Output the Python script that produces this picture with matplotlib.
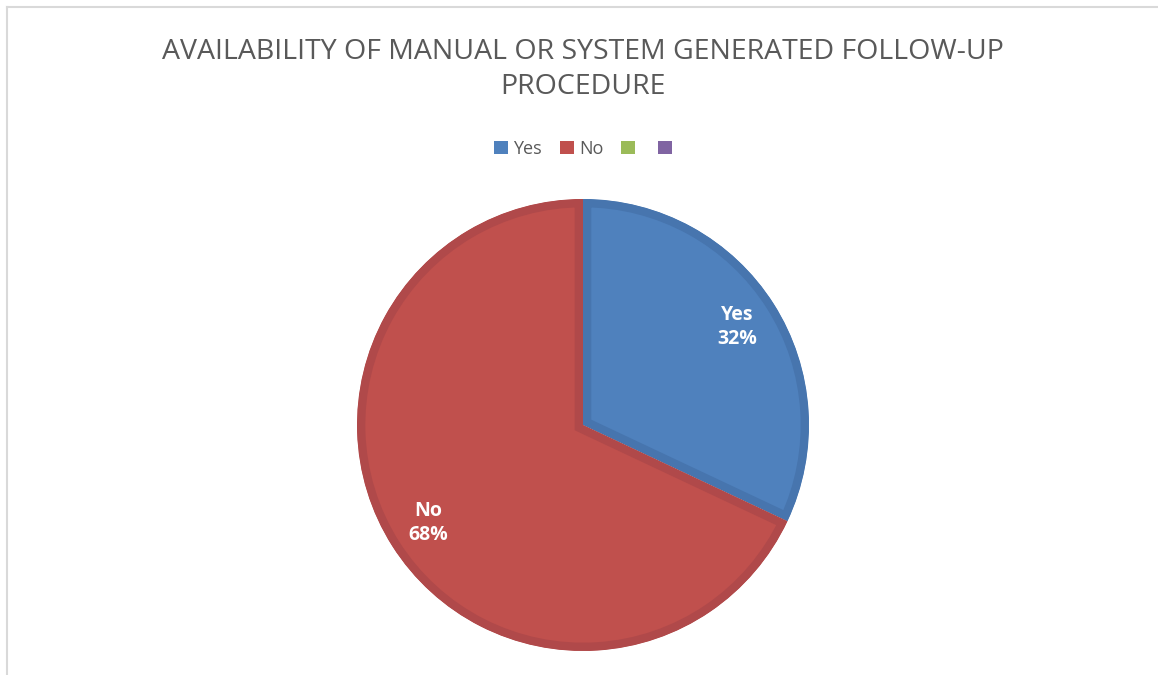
import matplotlib
matplotlib.use("Agg")
from matplotlib import pyplot as plt
from matplotlib.patches import Patch
from matplotlib.lines import Line2D

# Dados do gráfico
categories = ['Yes', 'No']
values = [32, 68]
legend_labels = ['Yes', 'No', '', '']
colors = ['#4F81BD', '#C0504D']
edge_colors = ['#4775AE', '#B0494A']
legend_colors = ['#4F81BD', '#C0504D', '#9BBB59', '#8064A2']

title = 'AVAILABILITY OF MANUAL OR SYSTEM GENERATED FOLLOW-UP\nPROCEDURE'

fig = plt.figure(figsize=(11.58, 6.75), dpi=100)
fig.patch.set_facecolor('white')

# Moldura do gráfico
fig.add_artist(Line2D([0.006, 1.0], [0.99, 0.99], color='#D9D9D9', lw=1.5))
fig.add_artist(Line2D([0.006, 0.006], [0.0, 0.99], color='#D9D9D9', lw=1.5))

ax = fig.add_axes([0.3083, 0.0356, 0.3903, 0.6696])
labels = [f'{c}\n{v}%' for c, v in zip(categories, values)]
wedges, texts = ax.pie(values, labels=labels, colors=colors, startangle=90,
                       counterclock=False, radius=1, labeldistance=0.81,
                       textprops=dict(color='white', fontsize=14,
                                      fontweight='bold', family='Open Sans'))
for w, ec in zip(wedges, edge_colors):
    w.set_edgecolor(ec)
    w.set_linewidth(12)
    w.set_joinstyle('miter')
    # só a metade interna da borda fica visível
    w.set_clip_on(True)
    w.set_clip_path(w.get_path(), w.get_transform())
for t in texts:
    t.set_horizontalalignment('center')
    t.set_verticalalignment('center')
    t.set_linespacing(1.3)
ax.set_xlim(-1.0, 1.0)
ax.set_ylim(-1.0, 1.0)
ax.set_aspect('equal')
ax.axis('off')

fig.text(0.503, 0.897, title, ha='center', va='center', fontsize=20.5,
         color='#595959', family='Open Sans', linespacing=1.35)

handles = [Patch(facecolor=c, edgecolor='none') for c in legend_colors]
fig.legend(handles, legend_labels, loc='center', bbox_to_anchor=(0.506, 0.78),
           ncol=4, frameon=False, handlelength=0.75, handleheight=0.75,
           handletextpad=0.3, columnspacing=1.0,
           prop=dict(family='Open Sans', size=13), labelcolor='#595959')

plt.savefig('out.png', dpi=100)
